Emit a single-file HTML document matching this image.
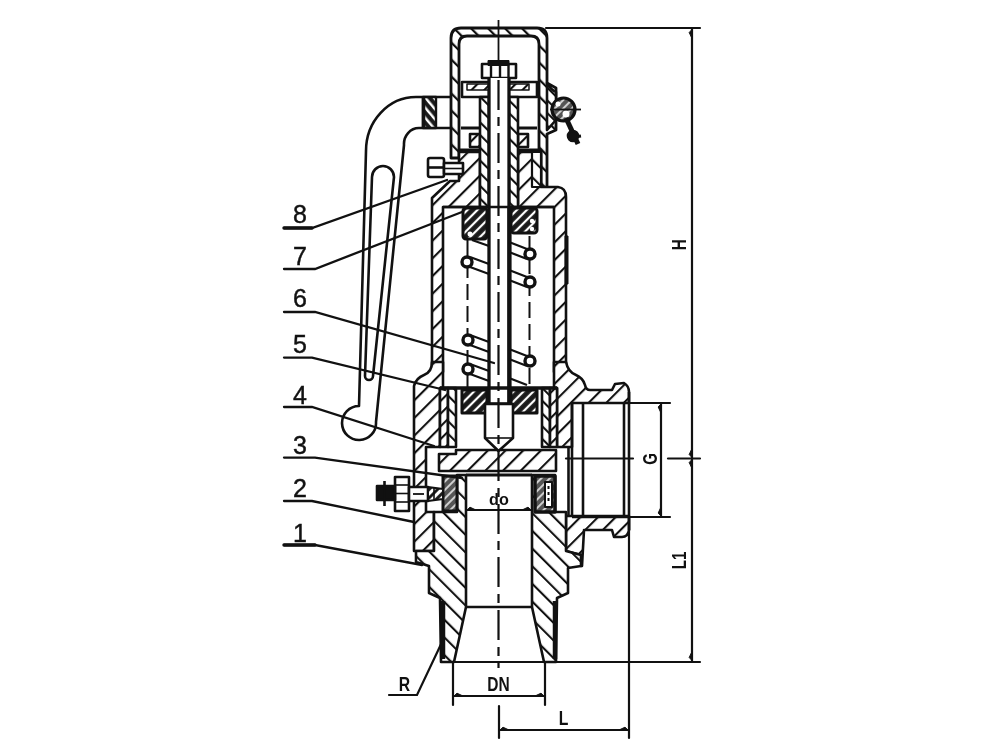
<!DOCTYPE html>
<html><head><meta charset="utf-8"><title>Safety valve</title>
<style>
html,body{margin:0;padding:0;background:#fff;}
body{width:1000px;height:750px;overflow:hidden;}
svg{display:block;filter:grayscale(1);}
text{font-family:"Liberation Sans",sans-serif;fill:#111;}
</style></head>
<body>
<svg width="1000" height="750" viewBox="0 0 1000 750">
<defs>
<pattern id="hA" patternUnits="userSpaceOnUse" width="12.5" height="12.5" patternTransform="rotate(45)"><rect width="12.5" height="12.5" fill="#fff"/><line x1="1" y1="0" x2="1" y2="12.5" stroke="#111" stroke-width="2.2"/></pattern>
<pattern id="hB" patternUnits="userSpaceOnUse" width="12.5" height="12.5" patternTransform="rotate(-45)"><rect width="12.5" height="12.5" fill="#fff"/><line x1="1" y1="0" x2="1" y2="12.5" stroke="#111" stroke-width="2.2"/></pattern>
<pattern id="hC" patternUnits="userSpaceOnUse" width="9" height="9" patternTransform="rotate(45)"><rect width="9" height="9" fill="#fff"/><line x1="1" y1="0" x2="1" y2="9" stroke="#111" stroke-width="2.2"/></pattern>
<pattern id="hD" patternUnits="userSpaceOnUse" width="9" height="9" patternTransform="rotate(-45)"><rect width="9" height="9" fill="#fff"/><line x1="1" y1="0" x2="1" y2="9" stroke="#111" stroke-width="2.2"/></pattern>
<pattern id="hE" patternUnits="userSpaceOnUse" width="6" height="6" patternTransform="rotate(45)"><rect width="6" height="6" fill="#555"/><line x1="1" y1="0" x2="1" y2="6" stroke="#eee" stroke-width="1.6"/></pattern>
<pattern id="hS" patternUnits="userSpaceOnUse" width="6" height="6" patternTransform="rotate(45)"><rect width="6" height="6" fill="#fff"/><line x1="1.5" y1="0" x2="1.5" y2="6" stroke="#111" stroke-width="2.8"/></pattern>
<pattern id="hK" patternUnits="userSpaceOnUse" width="7" height="7" patternTransform="rotate(45)"><rect width="7" height="7" fill="#1a1a1a"/><line x1="3" y1="0" x2="3" y2="7" stroke="#fff" stroke-width="2.2"/></pattern>
<pattern id="hT" patternUnits="userSpaceOnUse" width="5.5" height="5.5" patternTransform="rotate(-40)"><rect width="5.5" height="5.5" fill="#fff"/><line x1="1.5" y1="0" x2="1.5" y2="5.5" stroke="#111" stroke-width="2.2"/></pattern>
<pattern id="hK2" patternUnits="userSpaceOnUse" width="6.5" height="6.5" patternTransform="rotate(-40)"><rect width="6.5" height="6.5" fill="#1a1a1a"/><line x1="3" y1="0" x2="3" y2="6.5" stroke="#fff" stroke-width="2.4"/></pattern>
<pattern id="hW" patternUnits="userSpaceOnUse" width="12" height="12" patternTransform="rotate(-45)"><rect width="12" height="12" fill="#fff"/><line x1="1" y1="0" x2="1" y2="12" stroke="#111" stroke-width="2.4"/></pattern>
<pattern id="hV" patternUnits="userSpaceOnUse" width="12" height="12" patternTransform="rotate(45)"><rect width="12" height="12" fill="#fff"/><line x1="1" y1="0" x2="1" y2="12" stroke="#111" stroke-width="2.4"/></pattern>
</defs>
<g fill="none" stroke="#111" stroke-width="2.2" stroke-linecap="round">
<line x1="546" y1="28" x2="700" y2="28"/>
<line x1="692" y1="28" x2="692" y2="662"/>
<line x1="450" y1="662" x2="700" y2="662"/>
<line x1="629" y1="403" x2="670" y2="403"/>
<line x1="629" y1="517" x2="670" y2="517"/>
<line x1="661" y1="403" x2="661" y2="517"/>
<line x1="668" y1="458.5" x2="700" y2="458.5"/>
<line x1="566" y1="458.5" x2="633" y2="458.5"/>
<line x1="453" y1="662" x2="453" y2="705"/>
<line x1="545" y1="662" x2="545" y2="705"/>
<line x1="453" y1="696" x2="545" y2="696"/>
<line x1="499" y1="706" x2="499" y2="738"/>
<line x1="629" y1="517" x2="629" y2="738"/>
<line x1="499" y1="730" x2="629" y2="730"/>
<polyline points="389,695 417,695 443,640"/>
</g>
<g stroke="#111" stroke-width="2.6" stroke-linejoin="round" fill="#fff">
<path fill="none" d="M451,97 L416,97 A50,54 0 0 0 366,151 L359,406 A17,17 0 1 0 376,422 L404,145 A15,16 0 0 1 419,128 L451,128"/>
<path fill="none" d="M372,177 A11,11 0 0 1 394,177 L373,376 A4,4 0 0 1 365,376 Z"/>
<rect x="423" y="97" width="13" height="31" fill="url(#hK2)" stroke-width="2.4"/>
<line x1="423.5" y1="97" x2="423.5" y2="128" stroke-width="3.5"/>
<path stroke-width="2.8" d="M451,158 L451,38 Q451,28 461,28 L537,28 Q547,28 547,38 L547,83 L556,88 L556,130 L547,134 L547,188 L541,188 L541,150 L459,150 L459,158 Z" fill="url(#hW)"/>
<path stroke-width="2.8" d="M459,150 L459,44 Q459,36 467,36 L531,36 Q539,36 539,44 L539,150 Z"/>
<path d="M432,372 L432,198 L450,181 L459,181 L459,152 L480,152 L480,207 L443,207 L443,372 Z" fill="url(#hA)"/>
<path d="M518,152 L541,152 L541,187 L558,187 Q566,188 566,197 L566,372 L554,372 L554,207 L518,207 Z" fill="url(#hA)"/>
<rect x="532" y="152" width="9" height="35" fill="url(#hB)" stroke-width="2.2"/>
<line x1="461" y1="128" x2="481" y2="128" stroke-width="3"/>
<line x1="517" y1="128" x2="537" y2="128" stroke-width="3"/>
<rect x="470" y="134" width="10" height="13" fill="url(#hC)"/>
<rect x="518" y="134" width="10" height="13" fill="url(#hC)"/>
<rect x="462" y="82" width="75" height="15"/>
<rect x="467" y="84" width="62" height="6" fill="url(#hC)" stroke-width="1.5"/>
<rect x="482" y="64" width="34" height="14" stroke-width="2.6"/>
<line x1="491" y1="64" x2="491" y2="78" stroke-width="2.4"/>
<line x1="500" y1="64" x2="500" y2="78" stroke-width="2.4"/>
<line x1="508.5" y1="64" x2="508.5" y2="78" stroke-width="2.4"/>
<rect x="488" y="60.5" width="21" height="5" fill="#111" stroke-width="1"/>
<rect x="480" y="97" width="9" height="110" fill="url(#hD)"/>
<rect x="509" y="97" width="9" height="110" fill="url(#hD)"/>
<path d="M489,78 L489,404 L509,404 L509,78" stroke-width="3.3"/>
<line x1="509.5" y1="207" x2="509.5" y2="404" stroke-width="4.2"/>
<path d="M432,362 Q432,372 424,375 Q416,378 414,386 L414,551 L434,551 L434,512 L426,512 L426,447 L440,447 L440,388 L443,388 L443,362 Z" fill="url(#hA)"/>
<path d="M566,362 Q568,372 576,375 Q583,378 585,385 Q586,390 590,390 L612,390 L615,384 L624,383 Q629,386 629,392 L629,403 L572,403 L572,447 L557,447 L557,388 L554,388 L554,362 Z" fill="url(#hA)"/>
<path d="M629,516 L629,530 Q628,537 622,537 L614,537 L612,530 L584,530 L582,566 L581,566 L581,555 L566,551 L566,516 Z" fill="url(#hA)"/>
<rect x="440" y="388" width="8" height="59" fill="url(#hC)"/>
<rect x="448" y="388" width="8" height="59" fill="url(#hD)"/>
<rect x="542" y="388" width="8" height="59" fill="url(#hD)"/>
<rect x="550" y="388" width="7" height="59" fill="url(#hC)"/>
<line x1="440" y1="388" x2="557" y2="388" stroke-width="3.5"/>
<rect x="462" y="390" width="25" height="23" fill="url(#hK)" stroke-width="3"/>
<rect x="511" y="390" width="26" height="23" fill="url(#hK)" stroke-width="3"/>
<rect x="463" y="208" width="24" height="31" rx="3" fill="url(#hK)" stroke-width="3"/>
<rect x="511" y="208" width="26" height="25" rx="3" fill="url(#hK)" stroke-width="3"/>
<circle cx="470" cy="234" r="2.5" fill="#fff" stroke="none"/>
<circle cx="532" cy="221" r="2.2" fill="#fff" stroke="none"/>
<circle cx="532" cy="229" r="2.2" fill="#fff" stroke="none"/>
<line x1="443" y1="207" x2="554" y2="207"/>
<path d="M439,454 L456,454 L456,450 L556,450 L556,471 L439,471 Z" fill="url(#hA)"/>
<path d="M434,512 L434,551 L416,551 L416,562 L429,566 L429,593 L440,598 L441,662 L454,662 L466,607 L466,475 L457,475 L457,512 Z" fill="url(#hB)"/>
<path d="M532,475 L532,607 L544,662 L556,662 L557,598 L568,593 L568,568 L581,566 L581,555 L566,551 L566,512 L555,512 L555,475 Z" fill="url(#hB)"/>
<line x1="466" y1="607" x2="532" y2="607"/>
<line x1="466" y1="510" x2="532" y2="510" stroke-width="2.2"/>
<line x1="466" y1="475" x2="532" y2="475" stroke-width="3"/>
<line x1="443" y1="601" x2="443" y2="659" stroke-width="4.5"/>
<line x1="555" y1="601" x2="555" y2="659" stroke-width="4.5"/>
<rect x="443" y="476" width="14" height="35" fill="url(#hE)" stroke-width="3"/>
<rect x="535" y="476" width="20" height="36" stroke-width="3.5" fill="url(#hE)"/>
<rect x="545" y="482" width="7" height="25" stroke-width="2"/>
<line x1="548.5" y1="486" x2="548.5" y2="504" stroke-width="2" stroke-dasharray="3,3"/>
<rect x="395" y="477" width="14" height="34"/>
<line x1="395" y1="485" x2="409" y2="485" stroke-width="1.6"/>
<line x1="395" y1="493.5" x2="409" y2="493.5" stroke-width="1.6"/>
<line x1="395" y1="502" x2="409" y2="502" stroke-width="1.6"/>
<rect x="409" y="487" width="19" height="14"/>
<line x1="413" y1="494" x2="424" y2="494" stroke-width="1.8"/>
<path d="M428,487 L443,489 L443,499 L428,501 Z" fill="url(#hS)" stroke-width="2"/>
<line x1="434" y1="487" x2="434" y2="501" stroke-width="1.6"/>
<rect x="377" y="486" width="18" height="14" fill="#111"/>
<line x1="384.5" y1="481" x2="384.5" y2="506"/>
<rect x="565" y="236" width="3" height="48" fill="#111" stroke-width="1"/>
<line x1="568.5" y1="447" x2="568.5" y2="516"/>
<line x1="572" y1="403" x2="572" y2="517"/>
<line x1="583" y1="403" x2="583" y2="517"/>
<line x1="624" y1="403" x2="624" y2="517"/>
<line x1="629" y1="392" x2="629" y2="530"/>
<line x1="572" y1="517" x2="629" y2="517"/>
<path d="M485,404 L485,438 L498.5,451 L513,438 L513,404 Z"/>
<line x1="485" y1="438" x2="513" y2="438" stroke-width="1.6"/>
<line x1="467.5" y1="240" x2="467.5" y2="390" stroke-width="2" stroke-dasharray="16,6" fill="none"/>
<line x1="529.5" y1="236" x2="529.5" y2="390" stroke-width="2" stroke-dasharray="16,6" fill="none"/>
<path d="M470,257 L489,264 M470,267 L489,274" stroke-width="2.2" fill="none"/>
<path d="M470,335 L489,342 M470,345 L489,352" stroke-width="2.2" fill="none"/>
<path d="M470,364 L489,371 M470,374 L489,381" stroke-width="2.2" fill="none"/>
<path d="M509,242 L527,249 M509,252 L527,259" stroke-width="2.2" fill="none"/>
<path d="M509,270 L527,277 M509,280 L527,287" stroke-width="2.2" fill="none"/>
<path d="M509,349 L527,356 M509,359 L527,366" stroke-width="2.2" fill="none"/>
<path d="M472,240 L489,246" stroke-width="2.2" fill="none"/>
<path d="M509,378 L527,385" stroke-width="2.2" fill="none"/>
<circle cx="467" cy="262" r="5" stroke-width="3.4"/>
<circle cx="468" cy="340" r="5" stroke-width="3.4"/>
<circle cx="468" cy="369" r="5" stroke-width="3.4"/>
<circle cx="530" cy="254" r="5" stroke-width="3.4"/>
<circle cx="530" cy="282" r="5" stroke-width="3.4"/>
<circle cx="530" cy="361" r="5" stroke-width="3.4"/>
<path d="M547,83 Q551,90 556,92 L556,120 L547,130 Z" fill="url(#hD)"/>
<circle cx="563.5" cy="109.5" r="11.5" fill="url(#hE)" stroke-width="3.2"/>
<circle cx="566" cy="114" r="3.5" fill="#fff" stroke="none"/>
<circle cx="558" cy="104" r="2.5" fill="#fff" stroke="none"/>
<line x1="550" y1="109.5" x2="581" y2="109.5" stroke-width="1.8"/>
<line x1="566" y1="118" x2="578" y2="144" stroke-width="5"/>
<line x1="568" y1="138" x2="581" y2="136" stroke-width="3"/>
<circle cx="573" cy="136" r="5" fill="#111"/>
<rect x="428" y="158" width="16" height="19" rx="2"/>
<line x1="428" y1="167.5" x2="444" y2="167.5"/>
<rect x="444" y="163" width="19" height="11"/>
<line x1="444" y1="168.5" x2="463" y2="168.5" stroke-width="1.6"/>
<path d="M692,29.5 L689.2,32.5 L692,38.5 Z" fill="#111" stroke-width="1"/>
<path d="M692,660.5 L689.2,657.5 L692,651.5 Z" fill="#111" stroke-width="1"/>
<path d="M692,457.5 L689.2,454.5 L692,448.5 Z" fill="#111" stroke-width="1"/>
<path d="M692,459.5 L689.2,462.5 L692,468.5 Z" fill="#111" stroke-width="1"/>
<path d="M661,404 L658.2,407 L661,413 Z" fill="#111" stroke-width="1"/>
<path d="M661,516 L658.2,513 L661,507 Z" fill="#111" stroke-width="1"/>
<path d="M454,696 L457,693.2 L463,696 Z" fill="#111" stroke-width="1"/>
<path d="M544,696 L541,693.2 L535,696 Z" fill="#111" stroke-width="1"/>
<path d="M500,730 L503,727.2 L509,730 Z" fill="#111" stroke-width="1"/>
<path d="M628,730 L625,727.2 L619,730 Z" fill="#111" stroke-width="1"/>
<path d="M467,510 L470,507.2 L476,510 Z" fill="#111" stroke-width="1"/>
<path d="M531,510 L528,507.2 L522,510 Z" fill="#111" stroke-width="1"/>
</g><g fill="none" stroke="#111" stroke-width="2.3" stroke-linecap="round">
<polyline points="284,228 312,228 447,180"/><line x1="284" y1="228" x2="312" y2="228" stroke-width="3.4"/>
<polyline points="284,269 315,269 462,212"/>
<polyline points="284,312 315,312 494,363"/>
<polyline points="284,357.6 312,357.6 445,390"/>
<polyline points="284,407 312,407 434,446"/>
<polyline points="284,457.6 315,457.6 462,478"/>
<polyline points="284,501 312,501 414,522"/>
<polyline points="284,545 315,545 422,565"/><line x1="284" y1="545" x2="315" y2="545" stroke-width="3.4"/>
</g>
<g font-size="25" text-anchor="middle" stroke="#111" stroke-width="0.45">
<text x="300" y="223">8</text>
<text x="300" y="265">7</text>
<text x="300" y="307">6</text>
<text x="300" y="353">5</text>
<text x="300" y="404">4</text>
<text x="300" y="454">3</text>
<text x="300" y="497">2</text>
<text x="300" y="542">1</text>
</g>
<g font-size="21" font-weight="bold" text-anchor="middle">
<text transform="translate(498.6,691) scale(0.74,1)">DN</text>
<text transform="translate(404.5,691) scale(0.75,1)">R</text>
<text transform="translate(563.5,725) scale(0.75,1)">L</text>
<text transform="translate(499,505) scale(0.9,0.92)" font-size="18">do</text>
<text transform="translate(686,244.7) rotate(-90) scale(0.72,1)">H</text>
<text transform="translate(657,459) rotate(-90) scale(0.72,1)">G</text>
<text transform="translate(686,560.5) rotate(-90) scale(0.72,1)">L1</text>
</g>
<line x1="498.5" y1="20" x2="498.5" y2="60" stroke="#111" stroke-width="1.8"/>
<line x1="498.5" y1="80" x2="498.5" y2="668" stroke="#111" stroke-width="2.2" stroke-dasharray="30,7,9,7"/>
</svg>
</body></html>
